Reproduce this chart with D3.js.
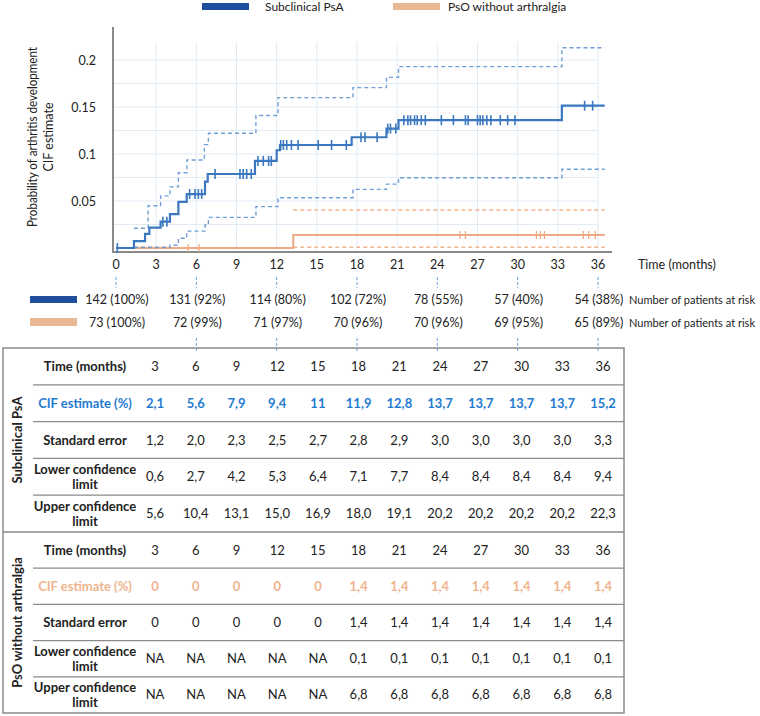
<!DOCTYPE html>
<html><head><meta charset="utf-8">
<script src="https://cdn.jsdelivr.net/npm/d3@7"></script>
<style>body{margin:0;background:#fff}svg{display:block;font-family:Lato,"Open Sans",sans-serif}</style>
</head><body><svg id="c" width="760" height="716"></svg>
<script>
// ---------- DATA ----------
const seriesNames = ["Subclinical PsA", "PsO without arthralgia"];
const xTicks = [0,3,6,9,12,15,18,21,24,27,30,33,36];
const yTicks = [0.05,0.1,0.15,0.2];
const yTickLabels = ["0.05","0.1","0.15","0.2"];

const blueT = [0,1.34,2.17,2.49,3.33,4.03,4.66,5.28,6.65,6.85,10.38,12.0,12.25,17.6,20.2,21.1,33.3];
const blueV = [0,0.0074,0.015,0.0216,0.028,0.036,0.049,0.0574,0.0706,0.0787,0.0926,0.104,0.1096,0.1178,0.127,0.136,0.1514];
const blueUpT = [1.34,2.4,3.33,4.03,4.66,5.3,6.6,6.9,10.45,12.1,17.7,20.2,21.1,33.3];
const blueUpV = [0.021,0.045,0.0555,0.065,0.08,0.0936,0.11,0.122,0.141,0.160,0.1706,0.1815,0.193,0.213];
const blueLoT = [1.34,4.03,4.66,5.28,6.65,6.9,10.45,12.1,17.7,20.2,21.1,33.3];
const blueLoV = [0.0005,0.003,0.0103,0.018,0.0245,0.0326,0.044,0.0535,0.0624,0.068,0.0748,0.0837];
const blueCensor = [0.1,3.5,3.8,5.5,5.9,6.15,6.4,7.4,9.26,9.5,9.76,10.1,10.6,11.0,11.4,11.6,12.3,12.5,12.75,13.1,13.6,15.1,16.1,17.2,18.3,18.6,19.5,20.3,20.5,20.9,21.5,21.8,22.0,22.3,22.5,22.8,23.1,24.3,25.2,26.1,26.3,27.0,27.2,27.4,27.7,28.0,28.7,29.25,29.8,35.0,35.6];

const orangeT = [0,13.24];
const orangeV = [0,0.0138];
const orangeUpT = [1.34,4.1,13.24];
const orangeUpV = [0.0012,null,0.0404];
const orangeLoT = [13.24];
const orangeLoV = [0.0008];
const orangeCensor = [5.4,6.2,25.7,26.1,31.4,31.7,32.0,34.9,35.3,35.8];
const tEnd = 36.5;

const riskTimes = [0,6,12,18,24,30,36];
const riskBlue = ["142 (100%)","131 (92%)","114 (80%)","102 (72%)","78 (55%)","57 (40%)","54 (38%)"];
const riskOrange = ["73 (100%)","72 (99%)","71 (97%)","70 (96%)","70 (96%)","69 (95%)","65 (89%)"];

const tableTimes = [3,6,9,12,15,18,21,24,27,30,33,36];
const rowLabels = [["Time (months)"],["CIF estimate (%)"],["Standard error"],["Lower confidence","limit"],["Upper confidence","limit"]];
const psaCIF = ["2,1","5,6","7,9","9,4","11","11,9","12,8","13,7","13,7","13,7","13,7","15,2"];
const psaSE  = ["1,2","2,0","2,3","2,5","2,7","2,8","2,9","3,0","3,0","3,0","3,0","3,3"];
const psaLo  = ["0,6","2,7","4,2","5,3","6,4","7,1","7,7","8,4","8,4","8,4","8,4","9,4"];
const psaUp  = ["5,6","10,4","13,1","15,0","16,9","18,0","19,1","20,2","20,2","20,2","20,2","22,3"];
const psoCIF = ["0","0","0","0","0","1,4","1,4","1,4","1,4","1,4","1,4","1,4"];
const psoSE  = ["0","0","0","0","0","1,4","1,4","1,4","1,4","1,4","1,4","1,4"];
const psoLo  = ["NA","NA","NA","NA","NA","0,1","0,1","0,1","0,1","0,1","0,1","0,1"];
const psoUp  = ["NA","NA","NA","NA","NA","6,8","6,8","6,8","6,8","6,8","6,8","6,8"];

// ---------- STYLE ----------
const C = {blueLeg:"#1f4e9c", orangeLeg:"#e9b894", blue:"#3b78c0", blueDash:"#6f9fd6",
  orange:"#eeaa82", orangeDash:"#f3b58e", grid:"#e1ebf6", axis:"#8a8a8a", text:"#222",
  cifBlue:"#1f7bd0", cifOrange:"#efb48e"};

const svg = d3.select("#c");
const x = d3.scaleLinear().domain([0,36]).range([116,598]);
const y = d3.scaleLinear().domain([0,0.2]).range([248,60]);

// grid
const g = svg.append("g");
g.selectAll(".vg").data(xTicks.slice(1)).join("line")
  .attr("x1",d=>x(d)).attr("x2",d=>x(d)).attr("y1",42).attr("y2",250)
  .attr("stroke",C.grid).attr("stroke-width",1);
g.selectAll(".hg").data(d3.range(1,9).map(i=>i*0.025)).join("line")
  .attr("x1",113).attr("x2",598).attr("y1",d=>y(d)).attr("y2",d=>y(d))
  .attr("stroke",C.grid).attr("stroke-width",1);

// axes lines
svg.append("line").attr("x1",113).attr("x2",113).attr("y1",27).attr("y2",253).attr("stroke",C.axis).attr("stroke-width",2);
svg.append("line").attr("x1",112).attr("x2",612).attr("y1",252).attr("y2",252).attr("stroke",C.axis).attr("stroke-width",2);

// tick labels
svg.selectAll(".xt").data(xTicks).join("text")
  .attr("x",d=>x(d)).attr("y",269).attr("text-anchor","middle")
  .attr("font-size",12.5).attr("fill",C.text).text(d=>d);
svg.selectAll(".yt").data(yTicks).join("text")
  .attr("x",96).attr("y",d=>y(d)+4.5).attr("text-anchor","end")
  .attr("font-size",12.5).attr("fill",C.text).text((d,i)=>yTickLabels[i]);
svg.append("text").attr("x",638).attr("y",269).attr("font-size",12.5).attr("fill",C.text).text("Time (months)");

// y title
const yt = svg.append("text").attr("transform","translate(37,137) rotate(-90)").attr("text-anchor","middle")
  .attr("font-size",12.5).attr("fill",C.text);
yt.append("tspan").attr("x",0).attr("dy",0).attr("textLength",180).attr("lengthAdjust","spacingAndGlyphs").text("Probability of arthritis development");
yt.append("tspan").attr("x",0).attr("dy",16).text("CIF estimate");

// legend
const leg = [{x:202,c:C.blueLeg,t:seriesNames[0],tx:265},{x:393,c:C.orangeLeg,t:seriesNames[1],tx:448}];
leg.forEach(l=>{
  svg.append("rect").attr("x",l.x).attr("y",3).attr("width",47).attr("height",7).attr("fill",l.c);
  svg.append("text").attr("x",l.tx).attr("y",11).attr("font-size",12).attr("fill",C.text).text(l.t);
});

// step path builder
function stepPath(T,V){
  const p = d3.path(); let prevDefined=false;
  for(let i=0;i<T.length;i++){
    const t1 = i+1<T.length?T[i+1]:tEnd;
    if(V[i]===null){prevDefined=false;continue;}
    if(prevDefined){p.lineTo(x(T[i]),y(V[i]));} else {p.moveTo(x(T[i]),y(V[i]));}
    p.lineTo(x(t1),y(V[i]));
    prevDefined = true;
  }
  return p.toString();
}
function stepVal(T,V,t){let v=V[0];for(let i=0;i<T.length;i++){if(T[i]<=t)v=V[i];}return v;}

const plot = svg.append("g");
plot.append("path").attr("d",stepPath(orangeUpT,orangeUpV)).attr("fill","none").attr("stroke",C.orangeDash).attr("stroke-width",1.3).attr("stroke-dasharray","4,3");
plot.append("path").attr("d",stepPath(orangeLoT,orangeLoV)).attr("fill","none").attr("stroke",C.orangeDash).attr("stroke-width",1.3).attr("stroke-dasharray","4,3");
plot.append("path").attr("d",stepPath(orangeT,orangeV)).attr("fill","none").attr("stroke",C.orange).attr("stroke-width",2);
plot.selectAll(".oc").data(orangeCensor).join("line")
  .attr("x1",d=>x(d)).attr("x2",d=>x(d)).attr("y1",d=>y(stepVal(orangeT,orangeV,d))-4).attr("y2",d=>y(stepVal(orangeT,orangeV,d))+4)
  .attr("stroke",C.orange).attr("stroke-width",1.3);

plot.append("path").attr("d",stepPath(blueUpT,blueUpV)).attr("fill","none").attr("stroke",C.blueDash).attr("stroke-width",1.4).attr("stroke-dasharray","4,3");
plot.append("path").attr("d",stepPath(blueLoT,blueLoV)).attr("fill","none").attr("stroke",C.blueDash).attr("stroke-width",1.4).attr("stroke-dasharray","4,3");
plot.append("path").attr("d",stepPath(blueT,blueV)).attr("fill","none").attr("stroke",C.blue).attr("stroke-width",2.2);
plot.selectAll(".bc").data(blueCensor).join("line")
  .attr("x1",d=>x(d)).attr("x2",d=>x(d)).attr("y1",d=>y(stepVal(blueT,blueV,d))-5).attr("y2",d=>y(stepVal(blueT,blueV,d))+5)
  .attr("stroke",C.blue).attr("stroke-width",1.6);

// risk table
svg.selectAll(".rd1").data(riskTimes).join("line")
  .attr("x1",d=>x(d)).attr("x2",d=>x(d)).attr("y1",277).attr("y2",288)
  .attr("stroke",C.blueDash).attr("stroke-width",1).attr("stroke-dasharray","3,2");
svg.selectAll(".rd2").data(riskTimes.slice(1)).join("line")
  .attr("x1",d=>x(d)).attr("x2",d=>x(d)).attr("y1",338).attr("y2",352)
  .attr("stroke",C.blueDash).attr("stroke-width",1).attr("stroke-dasharray","3,2");
svg.append("rect").attr("x",30).attr("y",296).attr("width",47).attr("height",7).attr("fill",C.blueLeg);
svg.append("rect").attr("x",30).attr("y",318).attr("width",47).attr("height",8).attr("fill",C.orangeLeg);
[[riskBlue,303.5],[riskOrange,326.5]].forEach(([arr,yy])=>{
  svg.selectAll(null).data(arr).join("text").attr("x",(d,i)=>x(riskTimes[i])+1).attr("y",yy)
    .attr("text-anchor","middle").attr("font-size",12.5).attr("fill",C.text).text(d=>d);
  svg.append("text").attr("x",629).attr("y",yy).attr("font-size",11).attr("fill",C.text)
    .attr("textLength",126).attr("lengthAdjust","spacingAndGlyphs").text("Number of patients at risk");
});

// data table
const tx = d3.scaleLinear().domain([3,36]).range([155,603]);
const T = svg.append("g");
T.append("rect").attr("x",3).attr("y",348).attr("width",621).attr("height",365).attr("fill","none").attr("stroke",C.axis).attr("stroke-width",1.5);
T.append("line").attr("x1",3).attr("x2",624).attr("y1",532).attr("y2",532).attr("stroke",C.axis).attr("stroke-width",1.5);

function section(top, bottom, name, rows, cifColor){
  const h = (bottom-top)/5;
  for(let r=1;r<5;r++){
    T.append("line").attr("x1",33).attr("x2",624).attr("y1",top+r*h).attr("y2",top+r*h).attr("stroke",C.axis).attr("stroke-width",1.2);
  }
  T.append("text").attr("transform",`translate(22,${(top+bottom)/2}) rotate(-90)`).attr("text-anchor","middle")
    .attr("font-size",13).attr("font-weight","bold").attr("fill",C.text).text(name);
  rowLabels.forEach((lab,r)=>{
    const cy = top + h*r + h/2;
    const isCif = r===1;
    const lt = T.append("text").attr("x",85).attr("text-anchor","middle").attr("font-size",13)
      .attr("font-weight","bold").attr("fill",isCif?cifColor:C.text);
    if(lab.length===1){ lt.attr("y",cy+4.5).text(lab[0]); }
    else { lt.append("tspan").attr("x",85).attr("y",cy-2.5).text(lab[0]); lt.append("tspan").attr("x",85).attr("y",cy+12).text(lab[1]); }
    const vals = rows[r];
    T.selectAll(null).data(vals).join("text").attr("x",(d,i)=>tx(tableTimes[i])).attr("y",cy+4.5)
      .attr("text-anchor","middle").attr("font-size",13).attr("font-weight",isCif?"bold":"normal")
      .attr("fill",isCif?cifColor:C.text).text(d=>d);
  });
}
section(348,532,seriesNames[0],[tableTimes,psaCIF,psaSE,psaLo,psaUp],C.cifBlue);
section(532,713,seriesNames[1],[tableTimes,psoCIF,psoSE,psoLo,psoUp],C.cifOrange);
</script></body></html>
